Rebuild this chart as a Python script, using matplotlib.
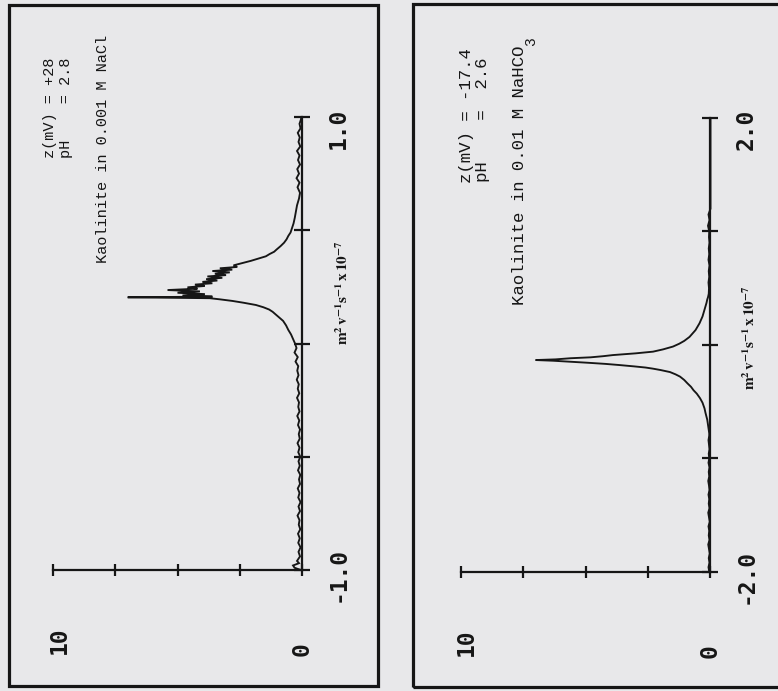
import matplotlib
matplotlib.use("Agg")
import matplotlib.pyplot as plt
from matplotlib.patches import Rectangle

# ---------------- data ----------------
# Panel A: Kaolinite in 0.001 M NaCl (mobility, m2 V-1 s-1 x 1e-7 ; relative intensity 0-10)
left_mobility = [
    -1.000, -0.990, -0.980, -0.970, -0.960, -0.940, -0.920, -0.900, -0.880, -0.860,
    -0.840, -0.820, -0.800, -0.780, -0.760, -0.740, -0.720, -0.700, -0.680, -0.660,
    -0.640, -0.620, -0.600, -0.580, -0.560, -0.540, -0.520, -0.500, -0.480, -0.460,
    -0.440, -0.420, -0.400, -0.380, -0.360, -0.340, -0.320, -0.300, -0.280, -0.260,
    -0.240, -0.220, -0.200, -0.180, -0.160, -0.140, -0.120, -0.100, -0.080, -0.060,
    -0.040, -0.020, 0.000, 0.020, 0.040, 0.060, 0.080, 0.100, 0.115, 0.130,
    0.140, 0.150, 0.160, 0.170, 0.180, 0.188, 0.195, 0.200, 0.204, 0.207,
    0.212, 0.218, 0.224, 0.230, 0.236, 0.242, 0.248, 0.254, 0.260, 0.266,
    0.272, 0.278, 0.284, 0.290, 0.296, 0.302, 0.308, 0.314, 0.320, 0.326,
    0.332, 0.338, 0.345, 0.355, 0.365, 0.375, 0.385, 0.395, 0.405, 0.415,
    0.430, 0.445, 0.460, 0.475, 0.490, 0.510, 0.530, 0.555, 0.580, 0.610,
    0.640, 0.665, 0.690, 0.710, 0.730, 0.750, 0.770, 0.790, 0.810, 0.830,
    0.850, 0.870, 0.890, 0.910, 0.930, 0.950, 0.970, 0.990, 1.000,
]
left_intensity = [
    0.05, 0.30, 0.36, 0.12, 0.20, 0.08, 0.14, 0.06, 0.15, 0.09,
    0.16, 0.07, 0.13, 0.10, 0.18, 0.08, 0.14, 0.06, 0.15, 0.10,
    0.17, 0.08, 0.12, 0.07, 0.16, 0.09, 0.14, 0.07, 0.15, 0.10,
    0.18, 0.09, 0.13, 0.08, 0.16, 0.11, 0.19, 0.10, 0.15, 0.12,
    0.20, 0.11, 0.17, 0.13, 0.21, 0.14, 0.19, 0.15, 0.26, 0.17,
    0.30, 0.22, 0.28, 0.36, 0.44, 0.55, 0.64, 0.76, 0.92, 1.08,
    1.18, 1.32, 1.55, 1.85, 2.35, 2.80, 3.30, 3.70, 7.00, 3.60,
    4.80, 3.90, 5.00, 4.10, 5.40, 4.20, 4.60, 3.90, 4.30, 3.60,
    4.00, 3.40, 3.85, 3.20, 3.80, 3.05, 3.50, 2.90, 3.60, 2.80,
    3.30, 2.60, 2.75, 2.40, 2.05, 1.75, 1.45, 1.30, 1.12, 1.02,
    0.86, 0.72, 0.62, 0.55, 0.46, 0.40, 0.34, 0.29, 0.25, 0.20,
    0.12, 0.08, 0.18, 0.10, 0.22, 0.12, 0.19, 0.08, 0.16, 0.10,
    0.20, 0.07, 0.14, 0.09, 0.17, 0.06, 0.10, 0.04, 0.03,
]

# Panel B: Kaolinite in 0.01 M NaHCO3
right_mobility = [
    -2.00, -1.96, -1.92, -1.88, -1.84, -1.80, -1.76, -1.72, -1.68, -1.64,
    -1.60, -1.56, -1.52, -1.48, -1.44, -1.40, -1.36, -1.32, -1.28, -1.24,
    -1.20, -1.16, -1.12, -1.08, -1.04, -1.00, -0.96, -0.92, -0.88, -0.84,
    -0.80, -0.78, -0.72, -0.66, -0.60, -0.56, -0.51, -0.47, -0.43, -0.40,
    -0.37, -0.34, -0.31, -0.28, -0.26, -0.24, -0.222, -0.21, -0.20, -0.19,
    -0.178, -0.168, -0.158, -0.149, -0.140, -0.134, -0.128, -0.118, -0.110, -0.100,
    -0.090, -0.075, -0.060, -0.040, -0.015, 0.010, 0.035, 0.070, 0.100, 0.130,
    0.160, 0.190, 0.220, 0.250, 0.280, 0.310, 0.340, 0.370, 0.400, 0.420,
    0.450, 0.500, 0.550, 0.600, 0.650, 0.700, 0.750, 0.800, 0.850, 0.900,
    0.950, 1.000, 1.050, 1.100, 1.150, 1.200, 2.000,
]
right_intensity = [
    0.05, 0.08, 0.04, 0.07, 0.03, 0.06, 0.09, 0.04, 0.07, 0.05,
    0.08, 0.03, 0.06, 0.09, 0.04, 0.07, 0.05, 0.08, 0.04, 0.06,
    0.09, 0.05, 0.07, 0.04, 0.08, 0.05, 0.07, 0.04, 0.06, 0.08,
    0.05, 0.05, 0.09, 0.13, 0.20, 0.24, 0.32, 0.42, 0.55, 0.68,
    0.78, 0.92, 1.05, 1.22, 1.40, 1.62, 2.00, 2.30, 2.60, 3.05,
    3.65, 4.20, 4.90, 5.60, 6.30, 7.00, 6.20, 5.60, 4.80, 4.30,
    3.90, 3.00, 2.30, 1.90, 1.50, 1.25, 1.05, 0.84, 0.72, 0.60,
    0.52, 0.44, 0.38, 0.32, 0.28, 0.24, 0.20, 0.16, 0.13, 0.10,
    0.07, 0.06, 0.08, 0.05, 0.07, 0.04, 0.08, 0.05, 0.07, 0.04,
    0.06, 0.05, 0.10, 0.04, 0.08, 0.00, 0.00,
]

intensity_ticks = [0, 2.5, 5, 7.5, 10]
intensity_labels = ["0", "10"]
left_mob_ticks = [-1.0, -0.5, 0.0, 0.5, 1.0]
left_mob_labels = ["-1.0", "1.0"]
right_mob_ticks = [-2.0, -1.0, 0.0, 1.0, 2.0]
right_mob_labels = ["-2.0", "2.0"]

left_title = "Kaolinite in 0.001 M NaCl"
left_info = ["z(mV) = +28", "pH    = 2.8"]
right_title = "Kaolinite in 0.01 M NaHCO"
right_info = ["z(mV) = -17.4", "pH    =  2.6"]
unit_label = r"$\mathbf{m^{2}\,v^{-1}s^{-1}\,x\,10^{-7}}$"

# ---------------- style ----------------
W, H = 778, 691
BG = "#e8e8ea"
INK = "#161616"
MONO = ["Liberation Mono", "DejaVu Sans Mono"]
TICKFONT = ["DejaVu Sans Mono"]

fig = plt.figure(figsize=(W / 100, H / 100), dpi=100, facecolor=BG)


def fxy(px, py):
    return px / W, 1 - py / H


def make_panel(rect, mob, inten, mob_ticks, mob_labels, frame):
    ax = fig.add_axes(rect)
    ax.set_facecolor("none")
    ax.set_xlim(10, 0)
    ax.set_ylim(mob_ticks[0], mob_ticks[-1])
    for s in ("top", "left"):
        ax.spines[s].set_visible(False)
    for s in ("right", "bottom"):
        ax.spines[s].set_linewidth(1.6)
        ax.spines[s].set_color(INK)
    ax.yaxis.set_ticks_position("right")
    ax.set_yticks(mob_ticks)
    ax.set_xticks(intensity_ticks)
    ax.tick_params(axis="y", direction="inout", length=12, width=1.6, color=INK,
                   labelright=False, labelleft=False)
    ax.tick_params(axis="x", direction="inout", length=8, width=1.6, color=INK,
                   labelbottom=False)
    ax.plot(inten, mob, color=INK, lw=1.35, clip_on=False, solid_joinstyle="miter")

    # tick labels at the axis ends
    lab_kw = dict(rotation=90, rotation_mode="anchor", ha="left", va="center",
                  family=TICKFONT, fontweight="bold", fontsize=16.5, color=INK,
                  textcoords="offset pixels", annotation_clip=False)
    ax.annotate(mob_labels[0], xy=(0, mob_ticks[0]), xytext=(36, -32), **lab_kw)
    ax.annotate(mob_labels[1], xy=(0, mob_ticks[-1]), xytext=(36, -32), **lab_kw)
    ax.annotate(intensity_labels[0], xy=(0, mob_ticks[0]), xytext=(0, -86), **lab_kw)
    ax.annotate(intensity_labels[1], xy=(10, mob_ticks[0]), xytext=(6, -84), **lab_kw)

    fig.add_artist(Rectangle(fxy(frame[0], frame[3]), (frame[2] - frame[0]) / W,
                             (frame[3] - frame[1]) / H, transform=fig.transFigure,
                             fill=False, lw=2.3, ec=INK))
    return ax


axL = make_panel([53 / W, 1 - 570 / H, 249 / W, 453 / H], left_mobility, left_intensity,
                 left_mob_ticks, left_mob_labels, (9, 5, 378, 686))
axR = make_panel([460.7 / W, 1 - 571.7 / H, 249.8 / W, 453.7 / H], right_mobility,
                 right_intensity, right_mob_ticks, right_mob_labels, (413, 4, 800, 687))

txt_kw = dict(rotation=90, rotation_mode="anchor", ha="right", va="center",
              family=MONO, color=INK)

# left panel texts
fig.text(*fxy(103, 35), left_title, fontsize=11, **txt_kw)
fig.text(*fxy(50, 58), left_info[0], fontsize=11, **txt_kw)
fig.text(*fxy(66, 58), left_info[1], fontsize=11, **txt_kw)
fig.text(*fxy(343, 293), unit_label, rotation=90, rotation_mode="anchor",
         ha="center", va="center", fontsize=11, math_fontfamily="stix", color=INK)

# right panel texts
fig.text(*fxy(519, 46), right_title, fontsize=12.5, **txt_kw)
fig.text(*fxy(531, 46), "3", rotation=90, rotation_mode="anchor", ha="left",
         va="center", family=MONO, color=INK, fontsize=10.5)
fig.text(*fxy(466, 48), right_info[0], fontsize=12.5, **txt_kw)
fig.text(*fxy(482, 58), right_info[1], fontsize=12.5, **txt_kw)
fig.text(*fxy(750, 338), unit_label, rotation=90, rotation_mode="anchor",
         ha="center", va="center", fontsize=11, math_fontfamily="stix", color=INK)

fig.savefig("out.png", dpi=100, facecolor=BG)
